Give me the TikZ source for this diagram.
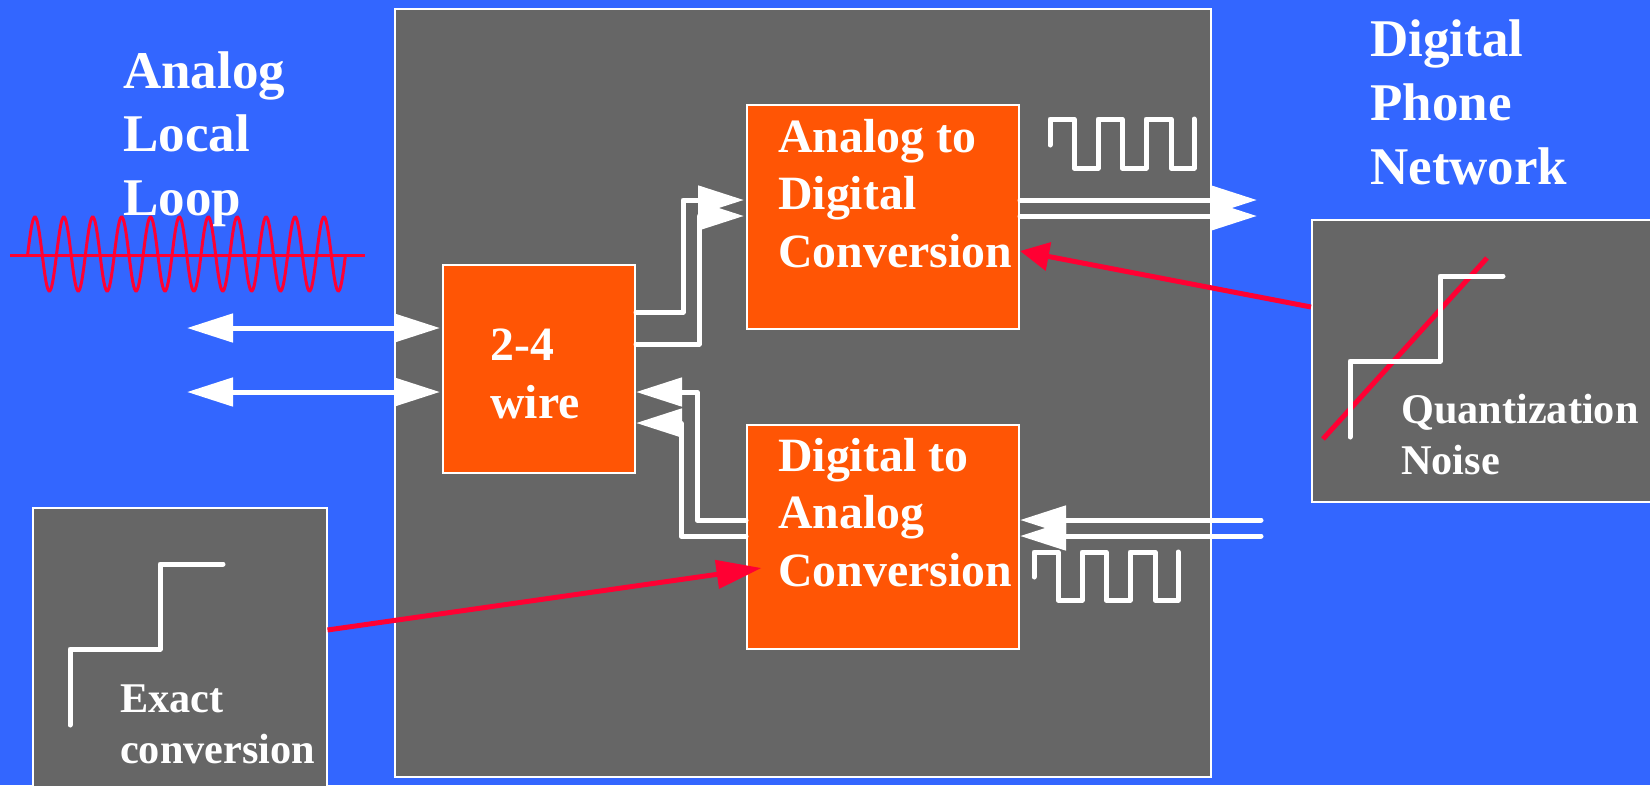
\documentclass[tikz,border=0pt]{standalone}
\usepackage{fontspec}
\setmainfont{Liberation Serif}
\usetikzlibrary{arrows.meta, calc}
\definecolor{slideblue}{RGB}{51, 102, 255}
\definecolor{panelgray}{RGB}{102, 102, 102}
\definecolor{blockorange}{RGB}{255, 85, 5}
\definecolor{noisered}{RGB}{255, 0, 51}
\tikzset{
    panelbox/.style={rectangle, draw=white, line width=2pt, fill=panelgray, inner sep=0pt},
    blockbox/.style={rectangle, draw=white, line width=2pt, fill=blockorange, inner sep=0pt},
    titletext/.style={anchor=base west, align=left, inner sep=0pt, text=white, font=\fontsize{53pt}{63.7pt}\selectfont\bfseries},
    blocktext/.style={anchor=base west, align=left, inner sep=0pt, text=white, font=\fontsize{47.8pt}{57.4pt}\selectfont\bfseries},
    notetext/.style={anchor=base west, align=left, inner sep=0pt, text=white, font=\fontsize{42.3pt}{51pt}\selectfont\bfseries},
    wire/.style={white, line width=5pt, line cap=round, line join=round, >={Triangle[length=46pt, width=28pt]}},
    redwire/.style={noisered, line width=5pt},
    stairline/.style={white, line width=5pt, line cap=round, line join=round},
    sineline/.style={noisered, line width=3pt}
}

\begin{document}
\begin{tikzpicture}[x=1pt, y=-1pt]
    \useasboundingbox (0,0) rectangle (1650,785);
    \fill[slideblue] (0,0) rectangle (1650,785);

    % panels and blocks
    \node[panelbox, minimum width=816pt, minimum height=768pt] (phone) at (803,393) {};
    \node[panelbox, minimum width=294pt, minimum height=302pt] (exact) at (179.5,659) {};
    \node[panelbox, minimum width=369pt, minimum height=282pt] (quant) at (1496.5,361) {};
    \node[blockbox, minimum width=192pt, minimum height=208pt] (hybrid) at (539,369) {};
    \node[blockbox, minimum width=272pt, minimum height=224pt] (adc) at (883,217) {};
    \node[blockbox, minimum width=272pt, minimum height=224pt] (dac) at (883,537) {};

    % texts
    \node[titletext] (localtext) at (123,215.5) {Analog\\Local\\Loop};
    \node[titletext] (networktext) at (1370,184) {Digital\\Phone\\Network};
    \node[blocktext] (hybridtext) at (490,418) {2-4\\wire};
    \node[blocktext] (adctext) at (778,267) {Analog to\\Digital\\Conversion};
    \node[blocktext] (dactext) at (778,586) {Digital to\\Analog\\Conversion};
    \node[notetext] (exacttext) at (120,763) {Exact\\conversion};
    \node[notetext] (quanttext) at (1401,474) {Quantization\\Noise};

    % analog signal
    \draw[sineline] (10,255) -- (365,255);
    \draw[sineline] plot[domain=0:11, samples=331] ({27.7+28.9*\x},{254-37*sin(360*\x)});

    % free ends
    \coordinate (loopa) at (187,328);
    \coordinate (loopb) at (187,392);
    \coordinate (neta) at (1257,200);
    \coordinate (netb) at (1257,216);
    \coordinate (netc) at (1261,520);
    \coordinate (netd) at (1261,536);

    % local loop wires
    \draw[wire, <->, shorten >=2pt] (loopa) -- ([yshift=41pt]hybrid.west);
    \draw[wire, <->, shorten >=2pt] (loopb) -- ([yshift=-23pt]hybrid.west);

    % between the blocks
    \draw[wire, ->, shorten >=2pt] ([yshift=57pt]hybrid.east) -- ++(47,0) |- ([yshift=17pt]adc.west);
    \draw[wire, ->, shorten >=2pt] ([yshift=25pt]hybrid.east) -- ++(63,0) |- ([yshift=1pt]adc.west);
    \draw[wire, ->] ([yshift=17pt]dac.west) -- ++(-49,0) |- ([yshift=-23pt]hybrid.east);
    \draw[wire, ->] ([yshift=1pt]dac.west) -- ++(-65,0) |- ([yshift=-54pt]hybrid.east);

    % digital network wires
    \draw[wire, ->] ([yshift=17pt]adc.east) -- (neta);
    \draw[wire, ->] ([yshift=1pt]adc.east) -- (netb);
    \draw[wire, ->] (netc) -- ([yshift=17pt]dac.east);
    \draw[wire, ->] (netd) -- ([yshift=1pt]dac.east);

    % square waves
    \draw[stairline] (1050,145) -- (1050,119) -- (1074,119) -- (1074,168) -- (1098,168) -- (1098,119) -- (1122,119) -- (1122,168) -- (1146,168) -- (1146,119) -- (1171,119) -- (1171,168) -- (1194,168) -- (1194,119);
    \draw[stairline] (1034,577) -- (1034,552) -- (1058,552) -- (1058,600) -- (1082,600) -- (1082,552) -- (1106,552) -- (1106,600) -- (1130,600) -- (1130,552) -- (1155,552) -- (1155,600) -- (1178,600) -- (1178,552);

    % staircases
    \draw[stairline] (70,725) -- (70,649) -- (160,649) -- (160,564) -- (223,564);
    \draw[redwire] (1323,439) -- (1487,258);
    \draw[stairline] (1350,437) -- (1350,361) -- (1440,361) -- (1440,276) -- (1503,276);

    % red arrows
    \draw[redwire, -{Triangle[length=45pt, width=28pt]}] ([yshift=29pt]exact.east) -- ++(434,-62);
    \draw[redwire, -{Triangle[length=29pt, width=28pt]}] ([yshift=54pt]quant.west) -- ([yshift=-34pt]adc.east);
\end{tikzpicture}
\end{document}
